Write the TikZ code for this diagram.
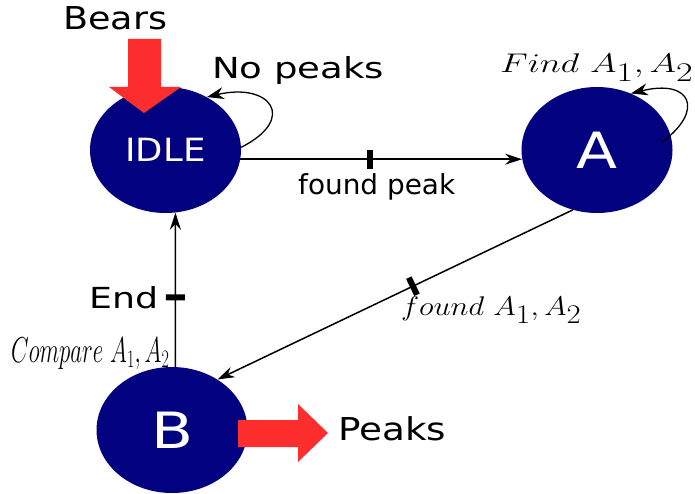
\documentclass[tikz,border=0pt]{standalone}
\usepackage{fix-cm}
\usepackage{fontspec}
\usepackage{graphicx}
\newfontfamily\dvsans{DejaVu Sans}
\usetikzlibrary{arrows.meta,shapes.geometric}
\definecolor{navystate}{RGB}{2,2,128}
\definecolor{redarrow}{RGB}{255,46,46}
\newcommand{\fsz}[1]{\fontsize{#1}{#1}\selectfont}
\begin{document}
\begin{tikzpicture}[x=1pt,y=-1pt,
  state/.style={ellipse, fill=navystate, minimum width=151pt, minimum height=126pt, inner sep=0pt, text=white, font=\dvsans},
  edge/.style={line width=1.5pt, -{Stealth[length=17pt,width=11pt]}},
  loopedge/.style={line width=1.3pt, -{Stealth[length=17pt,width=12pt]}},
  tickmark/.style={sloped, fill=black, minimum width=6pt, minimum height=19pt, inner sep=0pt},
  lbl/.style={anchor=base west, inner sep=0pt},
  bigarrow/.style={fill=redarrow}
]
\useasboundingbox (0,0) rectangle (695,494);

\node[state] (idle) at (165.5,150) {\fsz{32}\resizebox{80pt}{\height}{IDLE}};
\node[state] (a) at (597,150) {\fsz{50}\resizebox{41pt}{\height}{A}};
\node[state] (b) at (172,430) {\fsz{50}\resizebox{42pt}{\height}{B}};

\fill[bigarrow] (128,39) -- (161,39) -- (161,87) -- (181,87) -- (144,113) -- (109,87) -- (128,87) -- cycle;
\fill[bigarrow] (238,420) -- (298,420) -- (298,404) -- (328,433) -- (298,462) -- (298,447) -- (238,447) -- cycle;

\node[lbl] (bears) at (63,30) {\dvsans\fsz{31.5}\resizebox{104pt}{\height}{Bears}};
\node[lbl] (nopeaks) at (212,79) {\dvsans\fsz{29}\resizebox{172pt}{\height}{No peaks}};
\node[lbl] (foundpeak) at (298,195) {\dvsans\fsz{27.5}\resizebox{157pt}{\height}{found peak}};
\node[lbl] (endlbl) at (89,308) {\dvsans\fsz{29}\resizebox{69pt}{\height}{End}};
\node[lbl] (peaks) at (338,440) {\dvsans\fsz{31.5}\resizebox{108pt}{\height}{Peaks}};
\node[lbl] (find) at (500,73) {\fsz{27}\resizebox{193pt}{\height}{$Find\ A_{\textstyle 1},A_{\textstyle 2}$}};
\node[lbl] (foundA) at (401,315) {\fsz{27}\resizebox{180pt}{\height}{$found\ A_{\textstyle 1},A_{\textstyle 2}$}};
\node[lbl] (compare) at (11,362) {\fsz{36}\resizebox{158pt}{\height}{$Compare\ A_1,A_2$}};

\draw[edge] (idle.-7.6) -- node[tickmark, pos=0.46]{} (a.187.5);
\draw[edge] (a.-112.6) -- node[tickmark, pos=0.45]{} (b.48);
\draw[edge] (b.87.3) -- node[tickmark, pos=0.45]{} (idle.-81.4);

\draw[loopedge] (idle.2.6) .. controls +(57,-29) and +(63,-15) .. (idle.52);
\draw[loopedge] ([xshift=-10pt]a.6) .. controls +(43,-32) and +(60,-15) .. (a.59.8);
\end{tikzpicture}
\end{document}
